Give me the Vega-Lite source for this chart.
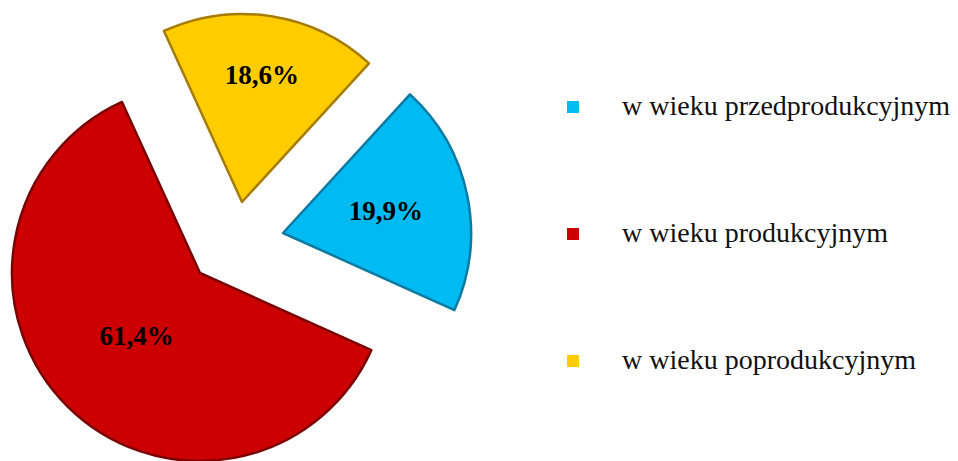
{
  "$schema": "https://vega.github.io/schema/vega-lite/v6.json",
  "width": 470,
  "height": 461,
  "padding": 0,
  "background": "white",
  "config": {"view": {"stroke": null}},
  "data": {
    "values": [
      {"grupa": "w wieku przedprodukcyjnym", "udzial": 19.9, "etykieta": "19,9%", "kolejnosc": 1},
      {"grupa": "w wieku produkcyjnym", "udzial": 61.4, "etykieta": "61,4%", "kolejnosc": 2},
      {"grupa": "w wieku poprodukcyjnym", "udzial": 18.6, "etykieta": "18,6%", "kolejnosc": 3}
    ]
  },
  "encoding": {
    "theta": {"field": "udzial", "type": "quantitative", "stack": true, "scale": {"range": [0.7418, 7.0250]}},
    "order": {"field": "kolejnosc", "type": "quantitative"}
  },
  "layer": [
    {
      "mark": {"type": "arc", "radius": 188, "xOffset": 48, "yOffset": 2.5, "stroke": "#0a7aa3", "strokeWidth": 2.5, "strokeJoin": "round"},
      "encoding": {
        "color": {
          "field": "grupa", "type": "nominal",
          "scale": {"domain": ["w wieku przedprodukcyjnym", "w wieku produkcyjnym", "w wieku poprodukcyjnym"], "range": ["#00BBF2", "#CC0000", "#FFCC00"]},
          "legend": {"orient": "none", "legendX": 559, "legendY": 93, "title": null, "padding": 0, "symbolType": "square", "symbolSize": 144, "symbolStrokeWidth": 0, "labelFont": "Liberation Serif", "labelFontSize": 28, "labelColor": "#111111", "labelOffset": 35, "labelLimit": 600, "rowPadding": 99}
        },
        "opacity": {"condition": {"test": "datum.grupa === 'w wieku przedprodukcyjnym'", "value": 1}, "value": 0}
      }
    },
    {
      "mark": {"type": "arc", "radius": 188, "xOffset": -35, "yOffset": 42.5, "stroke": "#7a0000", "strokeWidth": 2.5, "strokeJoin": "round"},
      "encoding": {
        "color": {"field": "grupa", "type": "nominal"},
        "opacity": {"condition": {"test": "datum.grupa === 'w wieku produkcyjnym'", "value": 1}, "value": 0}
      }
    },
    {
      "mark": {"type": "arc", "radius": 188, "xOffset": 7, "yOffset": -28.5, "stroke": "#a67c00", "strokeWidth": 2.5, "strokeJoin": "round"},
      "encoding": {
        "color": {"field": "grupa", "type": "nominal"},
        "opacity": {"condition": {"test": "datum.grupa === 'w wieku poprodukcyjnym'", "value": 1}, "value": 0}
      }
    },
    {
      "mark": {"type": "text", "radius": 105, "xOffset": 48, "yOffset": 2.5, "font": "Liberation Serif", "fontWeight": "bold", "fontSize": 27, "color": "black"},
      "encoding": {
        "text": {"field": "etykieta", "type": "nominal"},
        "opacity": {"condition": {"test": "datum.grupa === 'w wieku przedprodukcyjnym'", "value": 1}, "value": 0}
      }
    },
    {
      "mark": {"type": "text", "radius": 90, "xOffset": -35, "yOffset": 42.5, "font": "Liberation Serif", "fontWeight": "bold", "fontSize": 27, "color": "black"},
      "encoding": {
        "text": {"field": "etykieta", "type": "nominal"},
        "opacity": {"condition": {"test": "datum.grupa === 'w wieku produkcyjnym'", "value": 1}, "value": 0}
      }
    },
    {
      "mark": {"type": "text", "radius": 128, "xOffset": 7, "yOffset": -28.5, "font": "Liberation Serif", "fontWeight": "bold", "fontSize": 27, "color": "black"},
      "encoding": {
        "text": {"field": "etykieta", "type": "nominal"},
        "opacity": {"condition": {"test": "datum.grupa === 'w wieku poprodukcyjnym'", "value": 1}, "value": 0}
      }
    }
  ]
}
